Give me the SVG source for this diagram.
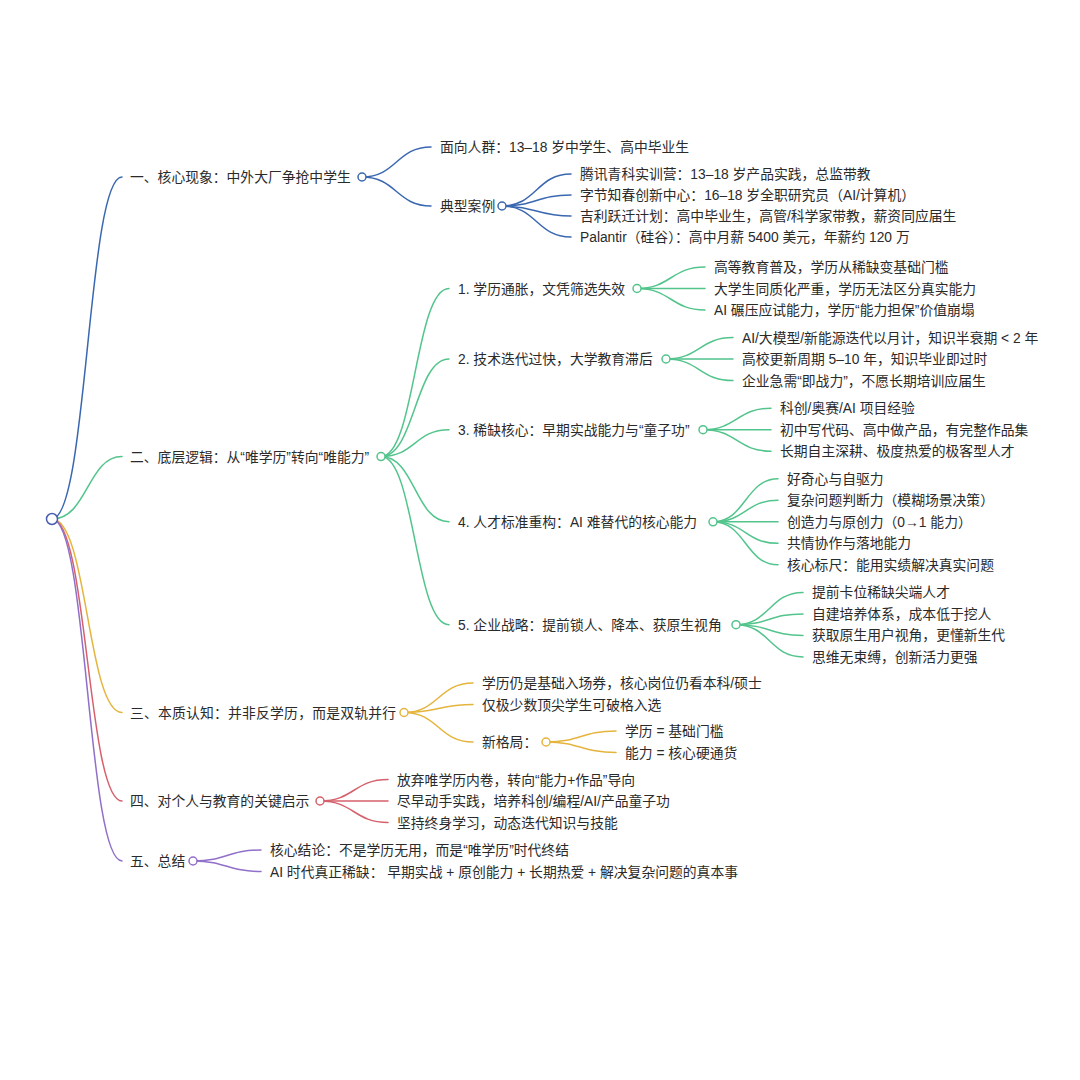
<svg xmlns="http://www.w3.org/2000/svg" width="1080" height="1080" viewBox="0 0 1080 1080">
<style>
text{font-family:"Liberation Sans","Noto Sans CJK SC",sans-serif;font-size:13.8px;fill:#2a2a2a}
path{fill:none;stroke-width:1.5;stroke-linecap:round}
circle{fill:#fff;stroke-width:1.5}
.b{stroke:#3a68b0}.g{stroke:#52c48c}.y{stroke:#e5b43c}.r{stroke:#d6606c}.p{stroke:#9070c8}.root{stroke:#4a5db0}
</style>
<rect width="1080" height="1080" fill="#fff"/>
<g id="connectors">
<path class="b" d="M52,519 C87.5,519 87.5,177 122,177"/>
<path class="g" d="M52,519 C87.5,519 87.5,456.6 122,456.6"/>
<path class="y" d="M52,519 C87.5,519 87.5,712.5 122,712.5"/>
<path class="r" d="M52,519 C87.5,519 87.5,801 122,801"/>
<path class="p" d="M52,519 C87.5,519 87.5,861 122,861"/>
<path class="b" d="M362,177 C396.5,177 396.5,147 431,147"/>
<path class="b" d="M362,177 C396.5,177 396.5,206 431,206"/>
<path class="b" d="M502,206 C536.5,206 536.5,174 571,174"/>
<path class="b" d="M502,206 C536.5,206 536.5,195 571,195"/>
<path class="b" d="M502,206 C536.5,206 536.5,216 571,216"/>
<path class="b" d="M502,206 C536.5,206 536.5,237 571,237"/>
<path class="g" d="M381,456.6 C415,456.6 415,288.5 449,288.5"/>
<path class="g" d="M381,456.6 C415,456.6 415,359 449,359"/>
<path class="g" d="M381,456.6 C415,456.6 415,429.7 449,429.7"/>
<path class="g" d="M381,456.6 C415,456.6 415,521.8 449,521.8"/>
<path class="g" d="M381,456.6 C415,456.6 415,624.7 449,624.7"/>
<path class="g" d="M637,288.5 C671,288.5 671,267 705,267"/>
<path class="g" d="M637,288.5 C671,288.5 671,288.5 705,288.5"/>
<path class="g" d="M637,288.5 C671,288.5 671,310 705,310"/>
<path class="g" d="M666,359 C699.5,359 699.5,337.6 733,337.6"/>
<path class="g" d="M666,359 C699.5,359 699.5,359 733,359"/>
<path class="g" d="M666,359 C699.5,359 699.5,380.6 733,380.6"/>
<path class="g" d="M703,429.7 C737,429.7 737,408.2 771,408.2"/>
<path class="g" d="M703,429.7 C737,429.7 737,429.7 771,429.7"/>
<path class="g" d="M703,429.7 C737,429.7 737,451.2 771,451.2"/>
<path class="g" d="M713,521.8 C745.5,521.8 745.5,478.8 778,478.8"/>
<path class="g" d="M713,521.8 C745.5,521.8 745.5,500.3 778,500.3"/>
<path class="g" d="M713,521.8 C745.5,521.8 745.5,521.8 778,521.8"/>
<path class="g" d="M713,521.8 C745.5,521.8 745.5,543.3 778,543.3"/>
<path class="g" d="M713,521.8 C745.5,521.8 745.5,564.8 778,564.8"/>
<path class="g" d="M736,624.7 C769.5,624.7 769.5,592.4 803,592.4"/>
<path class="g" d="M736,624.7 C769.5,624.7 769.5,613.9 803,613.9"/>
<path class="g" d="M736,624.7 C769.5,624.7 769.5,635.4 803,635.4"/>
<path class="g" d="M736,624.7 C769.5,624.7 769.5,656.9 803,656.9"/>
<path class="y" d="M404,712.5 C438.5,712.5 438.5,683 473,683"/>
<path class="y" d="M404,712.5 C438.5,712.5 438.5,704.5 473,704.5"/>
<path class="y" d="M404,712.5 C438.5,712.5 438.5,742 473,742"/>
<path class="y" d="M546,742 C581,742 581,731 616,731"/>
<path class="y" d="M546,742 C581,742 581,752.5 616,752.5"/>
<path class="r" d="M320,801 C354,801 354,779.5 388,779.5"/>
<path class="r" d="M320,801 C354,801 354,801 388,801"/>
<path class="r" d="M320,801 C354,801 354,822.5 388,822.5"/>
<path class="p" d="M193,861 C227,861 227,850 261,850"/>
<path class="p" d="M193,861 C227,861 227,871.5 261,871.5"/>
</g>
<g id="root"><circle class="root" cx="52" cy="519" r="5.5"/></g>
<g id="n1"><text x="130" y="182">一、核心现象：中外大厂争抢中学生</text><circle class="b" cx="362" cy="177" r="4"/></g>
<g id="n1-1"><text x="440" y="152">面向人群：13–18 岁中学生、高中毕业生</text></g>
<g id="n1-2"><text x="440" y="211">典型案例</text><circle class="b" cx="502" cy="206" r="4"/></g>
<g id="n1-2-1"><text x="580" y="179">腾讯青科实训营：13–18 岁产品实践，总监带教</text></g>
<g id="n1-2-2"><text x="580" y="200">字节知春创新中心：16–18 岁全职研究员（AI/计算机）</text></g>
<g id="n1-2-3"><text x="580" y="221">吉利跃迁计划：高中毕业生，高管/科学家带教，薪资同应届生</text></g>
<g id="n1-2-4"><text x="580" y="242">Palantir（硅谷）：高中月薪 5400 美元，年薪约 120 万</text></g>
<g id="n2"><text x="130" y="461.6">二、底层逻辑：从“唯学历”转向“唯能力”</text><circle class="g" cx="381" cy="456.6" r="4"/></g>
<g id="n2-1"><text x="458" y="293.5">1. 学历通胀，文凭筛选失效</text><circle class="g" cx="637" cy="288.5" r="4"/></g>
<g id="n2-1-1"><text x="714" y="272">高等教育普及，学历从稀缺变基础门槛</text></g>
<g id="n2-1-2"><text x="714" y="293.5">大学生同质化严重，学历无法区分真实能力</text></g>
<g id="n2-1-3"><text x="714" y="315">AI 碾压应试能力，学历“能力担保”价值崩塌</text></g>
<g id="n2-2"><text x="458" y="364">2. 技术迭代过快，大学教育滞后</text><circle class="g" cx="666" cy="359" r="4"/></g>
<g id="n2-2-1"><text x="742" y="342.6">AI/大模型/新能源迭代以月计，知识半衰期 &lt; 2 年</text></g>
<g id="n2-2-2"><text x="742" y="364">高校更新周期 5–10 年，知识毕业即过时</text></g>
<g id="n2-2-3"><text x="742" y="385.6">企业急需“即战力”，不愿长期培训应届生</text></g>
<g id="n2-3"><text x="458" y="434.7">3. 稀缺核心：早期实战能力与“童子功”</text><circle class="g" cx="703" cy="429.7" r="4"/></g>
<g id="n2-3-1"><text x="780" y="413.2">科创/奥赛/AI 项目经验</text></g>
<g id="n2-3-2"><text x="780" y="434.7">初中写代码、高中做产品，有完整作品集</text></g>
<g id="n2-3-3"><text x="780" y="456.2">长期自主深耕、极度热爱的极客型人才</text></g>
<g id="n2-4"><text x="458" y="526.8">4. 人才标准重构：AI 难替代的核心能力</text><circle class="g" cx="713" cy="521.8" r="4"/></g>
<g id="n2-4-1"><text x="787" y="483.8">好奇心与自驱力</text></g>
<g id="n2-4-2"><text x="787" y="505.3">复杂问题判断力（模糊场景决策）</text></g>
<g id="n2-4-3"><text x="787" y="526.8">创造力与原创力（0→1 能力）</text></g>
<g id="n2-4-4"><text x="787" y="548.3">共情协作与落地能力</text></g>
<g id="n2-4-5"><text x="787" y="569.8">核心标尺：能用实绩解决真实问题</text></g>
<g id="n2-5"><text x="458" y="629.7">5. 企业战略：提前锁人、降本、获原生视角</text><circle class="g" cx="736" cy="624.7" r="4"/></g>
<g id="n2-5-1"><text x="812" y="597.4">提前卡位稀缺尖端人才</text></g>
<g id="n2-5-2"><text x="812" y="618.9">自建培养体系，成本低于挖人</text></g>
<g id="n2-5-3"><text x="812" y="640.4">获取原生用户视角，更懂新生代</text></g>
<g id="n2-5-4"><text x="812" y="661.9">思维无束缚，创新活力更强</text></g>
<g id="n3"><text x="130" y="717.5" textLength="266" lengthAdjust="spacing">三、本质认知：并非反学历，而是双轨并行</text><circle class="y" cx="404" cy="712.5" r="4"/></g>
<g id="n3-1"><text x="482" y="688">学历仍是基础入场券，核心岗位仍看本科/硕士</text></g>
<g id="n3-2"><text x="482" y="709.5">仅极少数顶尖学生可破格入选</text></g>
<g id="n3-3"><text x="482" y="747">新格局：</text><circle class="y" cx="546" cy="742" r="4"/></g>
<g id="n3-3-1"><text x="625" y="736">学历 = 基础门槛</text></g>
<g id="n3-3-2"><text x="625" y="757.5">能力 = 核心硬通货</text></g>
<g id="n4"><text x="130" y="806">四、对个人与教育的关键启示</text><circle class="r" cx="320" cy="801" r="4"/></g>
<g id="n4-1"><text x="397" y="784.5">放弃唯学历内卷，转向“能力+作品”导向</text></g>
<g id="n4-2"><text x="397" y="806">尽早动手实践，培养科创/编程/AI/产品童子功</text></g>
<g id="n4-3"><text x="397" y="827.5">坚持终身学习，动态迭代知识与技能</text></g>
<g id="n5"><text x="130" y="866">五、总结</text><circle class="p" cx="193" cy="861" r="4"/></g>
<g id="n5-1"><text x="270" y="855">核心结论：不是学历无用，而是“唯学历”时代终结</text></g>
<g id="n5-2"><text x="270" y="876.5">AI 时代真正稀缺： 早期实战 + 原创能力 + 长期热爱 + 解决复杂问题的真本事</text></g>
</svg>
